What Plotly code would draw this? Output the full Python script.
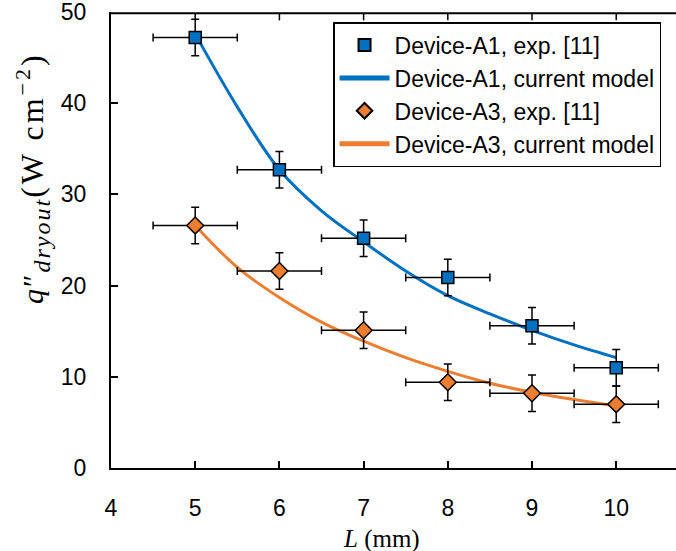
import plotly.graph_objects as go

# Data
L_exp = [5, 6, 7, 8, 9, 10]
a1_exp = [47.2, 32.7, 25.2, 20.9, 15.6, 11.0]
a3_exp = [26.6, 21.6, 15.1, 9.4, 8.2, 7.0]
x_err = [0.5] * 6
y_err = [2.0] * 6

L_model = [5.0, 5.5, 6.0, 6.5, 7.0, 7.5, 8.0, 8.5, 9.0, 9.5, 10.0]
a1_model = [47.6, 39.6, 32.7, 28.2, 24.8, 21.6, 18.9, 16.9, 15.1, 13.5, 12.1]
a3_model = [26.6, 22.0, 18.7, 16.0, 13.9, 12.1, 10.6, 9.3, 8.3, 7.5, 6.8]

x_ticks = [4, 5, 6, 7, 8, 9, 10]
y_ticks = [0, 10, 20, 30, 40, 50]

BLUE = "#0070C0"
ORANGE = "#ED7D31"
SANS = "Liberation Sans, Arial, sans-serif"
SERIF = "Liberation Serif, DejaVu Serif, serif"

fig = go.Figure()

fig.add_trace(go.Scatter(
    x=L_model, y=a1_model, mode="lines", line=dict(color=BLUE, width=3, shape="spline"),
    name="Device-A1, current model", legendrank=2))
fig.add_trace(go.Scatter(
    x=L_model, y=a3_model, mode="lines", line=dict(color=ORANGE, width=3, shape="spline"),
    name="Device-A3, current model", legendrank=4))

fig.add_trace(go.Scatter(
    x=L_exp, y=a1_exp, mode="markers",
    marker=dict(symbol="square", size=12, color=BLUE, line=dict(color="black", width=1.5)),
    error_x=dict(type="data", array=x_err, color="black", thickness=1.5, width=4),
    error_y=dict(type="data", array=y_err, color="black", thickness=1.5, width=4),
    name="Device-A1, exp. [11]", legendrank=1))
fig.add_trace(go.Scatter(
    x=L_exp, y=a3_exp, mode="markers",
    marker=dict(symbol="diamond", size=13, color=ORANGE, line=dict(color="black", width=1.5)),
    error_x=dict(type="data", array=x_err, color="black", thickness=1.5, width=4),
    error_y=dict(type="data", array=y_err, color="black", thickness=1.5, width=4),
    name="Device-A3, exp. [11]", legendrank=3))

fig.update_layout(
    width=676, height=551,
    margin=dict(l=111, r=0, t=12, b=83),
    paper_bgcolor="white", plot_bgcolor="white",
    font=dict(family=SANS, size=22, color="black"),
    showlegend=True,
    legend=dict(
        x=0.393, y=0.978, xanchor="left", yanchor="top",
        bgcolor="white", bordercolor="black", borderwidth=1.5,
        font=dict(family=SANS, size=23, color="black"),
        tracegroupgap=0, itemsizing="constant", itemwidth=50,
    ),
    xaxis=dict(
        range=[4, 10.71], tickmode="array", tickvals=x_ticks,
        showgrid=False, zeroline=False,
        showline=True, linecolor="black", linewidth=2,
        ticks="inside", ticklen=7, tickwidth=1.5, tickcolor="black",
        ticklabelstandoff=18,
        tickfont=dict(family=SANS, size=23),
    ),
    yaxis=dict(
        range=[0, 50], tickmode="array", tickvals=y_ticks,
        showgrid=False, zeroline=False,
        showline=True, linecolor="black", linewidth=2,
        ticks="inside", ticklen=7, tickwidth=1.5, tickcolor="black",
        ticklabelstandoff=18, ticklabeloverflow="allow",
        tickfont=dict(family=SANS, size=23),
    ),
)

# top frame line with inward ticks
TOP = 0.997
fig.add_shape(type="line", xref="paper", yref="paper", x0=0, x1=1, y0=TOP, y1=TOP,
              line=dict(color="black", width=2), layer="above")
for xv in x_ticks[1:]:
    fig.add_shape(type="line", xref="x", yref="paper", x0=xv, x1=xv, y0=TOP, y1=TOP - 7 / 456,
                  line=dict(color="black", width=1.5), layer="above")

fig.add_annotation(
    text="<i>L</i> (mm)", xref="paper", yref="paper",
    x=(381 - 111) / 565, y=-0.155, xanchor="center", yanchor="middle",
    showarrow=False, font=dict(family=SERIF, size=25, color="black"))

fig.add_annotation(
    text=("<span style='letter-spacing:2px'><i>q</i>\u2033<sub><span style='font-size:24px'><i>dryout</i></span></sub></span>"
          "<span style='letter-spacing:3px;font-size:32px'>(W cm<sup><span style='font-size:22px'>\u22122</span></sup>)</span>"),
    xref="paper", yref="paper",
    x=(32 - 111) / 565, y=(468 - 178) / 456, xanchor="center", yanchor="middle",
    textangle=-90, showarrow=False, font=dict(family=SERIF, size=30, color="black"))

fig.write_html("out.html", config={"displayModeBar": False},
               post_script="document.body.style.margin='0';document.body.style.overflow='hidden';")
